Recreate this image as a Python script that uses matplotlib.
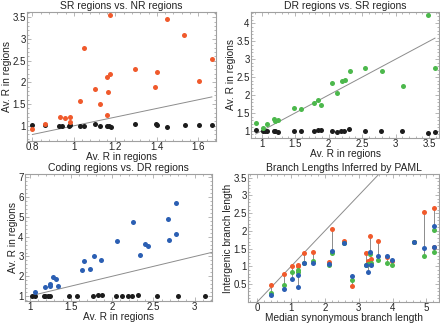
import numpy as np
import matplotlib
matplotlib.use('Agg')
import matplotlib.pyplot as plt
from matplotlib.ticker import MultipleLocator, AutoMinorLocator, FormatStrFormatter

plt.rcParams['font.family'] = ['Liberation Sans', 'DejaVu Sans']
plt.rcParams['font.size'] = 7

# colours per region type
C_SR = '#f05a2c'
C_DR = '#4cb84c'
C_COD = '#2b5fb3'
C_NR = '#1c1c1c'
C_LINE = '#8c8c8c'

# ---- panel 1: SR vs NR ----
sr_x = [0.80, 0.86, 0.935, 0.955, 0.98, 0.98, 1.03, 1.05, 1.10, 1.127, 1.16,
        1.16, 1.165, 1.175, 1.175, 1.293, 1.39, 1.40, 1.45, 1.53, 1.603, 1.665]
sr_y = [0.92, 1.04, 1.20, 1.19, 1.21, 1.08, 1.58, 2.79, 1.84, 1.50, 1.26,
        2.12, 1.78, 2.19, 3.56, 2.31, 1.89, 2.24, 3.46, 3.10, 2.04, 2.53]
nr1_x = [0.80, 0.86, 0.93, 0.945, 0.976, 0.98, 1.03, 1.05, 1.10, 1.127,
         1.16, 1.17, 1.18, 1.293, 1.395, 1.40, 1.45, 1.535, 1.603, 1.665]
nr1_y = [1.02, 1.02, 1.00, 1.00, 1.00, 1.01, 1.00, 1.00, 1.04, 1.00,
         1.00, 1.00, 0.98, 1.05, 1.05, 1.01, 0.97, 1.01, 1.02, 1.02]

# ---- panel 2: DR vs SR ----
dr_x = [0.91, 1.025, 1.075, 1.18, 1.205, 1.25, 1.485, 1.58, 1.78, 1.84, 1.89,
        2.05, 2.125, 2.20, 2.25, 2.32, 2.54, 2.80, 3.11, 3.48, 3.59]
dr_y = [1.23, 1.07, 1.19, 1.33, 1.27, 1.29, 1.65, 1.61, 1.77, 1.85, 1.72,
        2.33, 2.05, 2.39, 2.41, 2.67, 2.75, 2.66, 2.24, 4.24, 2.76]
nr2_x = [0.91, 1.025, 1.05, 1.075, 1.18, 1.205, 1.25, 1.485, 1.58, 1.78, 1.84,
         1.89, 2.05, 2.125, 2.18, 2.23, 2.31, 2.54, 2.79, 3.10, 3.48, 3.59]
nr2_y = [1.02, 0.99, 0.99, 0.99, 0.99, 0.99, 0.98, 0.99, 0.99, 0.99, 1.02,
         1.02, 0.99, 0.98, 0.99, 0.99, 1.04, 0.99, 0.99, 0.99, 0.93, 0.96]

# ---- panel 3: coding vs DR ----
cod_x = [1.067, 1.19, 1.25, 1.25, 1.29, 1.325, 1.34, 1.63, 1.66, 1.73, 1.785,
         1.86, 2.065, 2.25, 2.34, 2.40, 2.43, 2.68, 2.69, 2.78, 2.78]
cod_y = [1.18, 1.47, 1.53, 1.62, 1.97, 1.87, 1.49, 2.33, 2.77, 2.35, 3.00,
         2.83, 3.80, 4.75, 3.10, 3.65, 3.53, 4.90, 3.83, 5.70, 4.12]
nr3_x = [1.03, 1.07, 1.17, 1.19, 1.22, 1.25, 1.48, 1.57, 1.77, 1.83, 1.88,
         2.05, 2.12, 2.19, 2.24, 2.31, 2.54, 2.80, 3.12]
nr3_y = [1.00, 1.00, 1.00, 0.99, 0.99, 0.99, 1.00, 1.00, 1.00, 1.05, 1.05,
         1.00, 0.99, 0.99, 0.99, 1.06, 1.00, 1.00, 1.00]

# ---- panel 4: branch lengths ----
syn_len = [0.40, 0.79, 1.03, 1.20, 1.22, 1.37, 1.64, 2.12, 2.22, 2.56, 2.79,
           3.22, 3.28, 3.33, 3.36, 3.58, 3.83, 3.98, 4.64, 4.92, 5.21, 5.23]
bl_sr = [0.47, 0.78, 1.02, 1.03, 1.02, 1.37, 1.40, 1.12, 2.04, 1.71, 0.45,
         1.39, 1.14, 1.87, 1.20, 1.71, 1.27, 1.16, 1.68, 2.52, 2.65, 1.56]
bl_dr = [0.25, 0.49, 0.83, 0.90, 0.85, 1.10, 1.14, 1.03, 1.37, 1.67, 0.63,
         1.05, 1.08, 1.36, 1.10, 1.19, 1.09, 1.05, 1.70, 1.28, 2.02, 1.41]
bl_cod = [0.19, 0.37, 0.65, 0.77, 0.42, 1.09, 1.09, 1.08, 1.43, 1.66, 0.72,
          1.05, 0.84, 1.40, 1.05, 1.28, 1.28, 1.17, 1.68, 1.53, 2.13, 1.56]

W, H = 440, 324
fig = plt.figure(figsize=(W / 100, H / 100), dpi=100)


def make_ax(l, t, r, b):
    return fig.add_axes([l / W, 1 - b / H, (r - l) / W, (b - t) / H])


def style(ax, xmaj, ymaj, xlim, ylim, title, xlabel, ylabel):
    ax.set_xlim(*xlim)
    ax.set_ylim(*ylim)
    ax.xaxis.set_major_locator(MultipleLocator(xmaj))
    ax.yaxis.set_major_locator(MultipleLocator(ymaj))
    ax.xaxis.set_minor_locator(AutoMinorLocator(5))
    ax.yaxis.set_minor_locator(AutoMinorLocator(5))
    ax.xaxis.set_major_formatter(FormatStrFormatter('%g'))
    ax.yaxis.set_major_formatter(FormatStrFormatter('%g'))
    ax.tick_params(which='both', direction='in', top=True, right=True,
                   color='#9a9a9a', width=0.5, labelsize=7, pad=1,
                   labelcolor='#222222')
    ax.tick_params(which='major', length=3)
    ax.tick_params(which='minor', length=1.5)
    for s in ax.spines.values():
        s.set_color('#a0a0a0')
        s.set_linewidth(0.8)
    ax.set_title(title, fontsize=7.5, pad=2, color='#222222')
    ax.set_xlabel(xlabel, fontsize=7.3, labelpad=-0.5, color='#222222')
    ax.set_ylabel(ylabel, fontsize=7.3, labelpad=0, color='#222222')


S = 13

# panel 1
ax1 = make_ax(27, 12, 216, 141)
xs = np.array([min(sr_x), max(sr_x)])
ax1.plot(xs, xs, color=C_LINE, lw=0.7)
ax1.scatter(nr1_x, nr1_y, s=S, c=C_NR, lw=0, zorder=3)
ax1.scatter(sr_x, sr_y, s=S, c=C_SR, lw=0, zorder=3)
style(ax1, 0.2, 0.5, (0.774, 1.685), (0.65, 3.62),
      'SR regions vs. NR regions', 'Av. R in regions', 'Av. R in regions')

# panel 2
ax2 = make_ax(251, 12, 439, 138)
xs = np.array([min(dr_x), max(dr_x)])
ax2.plot(xs, xs, color=C_LINE, lw=0.7)
ax2.scatter(nr2_x, nr2_y, s=S, c=C_NR, lw=0, zorder=3)
ax2.scatter(dr_x, dr_y, s=S, c=C_DR, lw=0, zorder=3)
style(ax2, 0.5, 0.5, (0.84, 3.65), (0.8, 4.32),
      'DR regions vs. SR regions', 'Av. R in regions', 'Av. R in regions')

# panel 3
ax3 = make_ax(25, 174, 212, 301)
xs = np.array([min(nr3_x), 3.21])
ax3.plot(xs, xs, color=C_LINE, lw=0.7)
ax3.scatter(nr3_x, nr3_y, s=S, c=C_NR, lw=0, zorder=3)
ax3.scatter(cod_x, cod_y, s=S, c=C_COD, lw=0, zorder=3)
style(ax3, 0.5, 1, (0.945, 3.21), (0.75, 7.17),
      'Coding regions vs. DR regions', 'Av. R in regions', 'Av. R in regions')

# panel 4
ax4 = make_ax(248, 174, 439, 302)
ax4.axline((0, 0), slope=1, color=C_LINE, lw=0.7)
allv = np.vstack([bl_sr, bl_dr, bl_cod])
ax4.vlines(syn_len, allv.min(axis=0), allv.max(axis=0), color=C_LINE, lw=0.7, zorder=2)
ax4.scatter(syn_len, bl_sr, s=S, c=C_SR, lw=0, zorder=3)
ax4.scatter(syn_len, bl_dr, s=S, c=C_DR, lw=0, zorder=3)
ax4.scatter(syn_len, bl_cod, s=S, c=C_COD, lw=0, zorder=3)
style(ax4, 1, 0.5, (-0.27, 5.37), (0, 3.6),
      'Branch Lengths Inferred by PAML', 'Median synonymous branch length',
      'Intergenic branch length')
ax4.set_yticks([0.5, 1, 1.5, 2, 2.5, 3, 3.5])

fig.savefig('out.png', dpi=100)
